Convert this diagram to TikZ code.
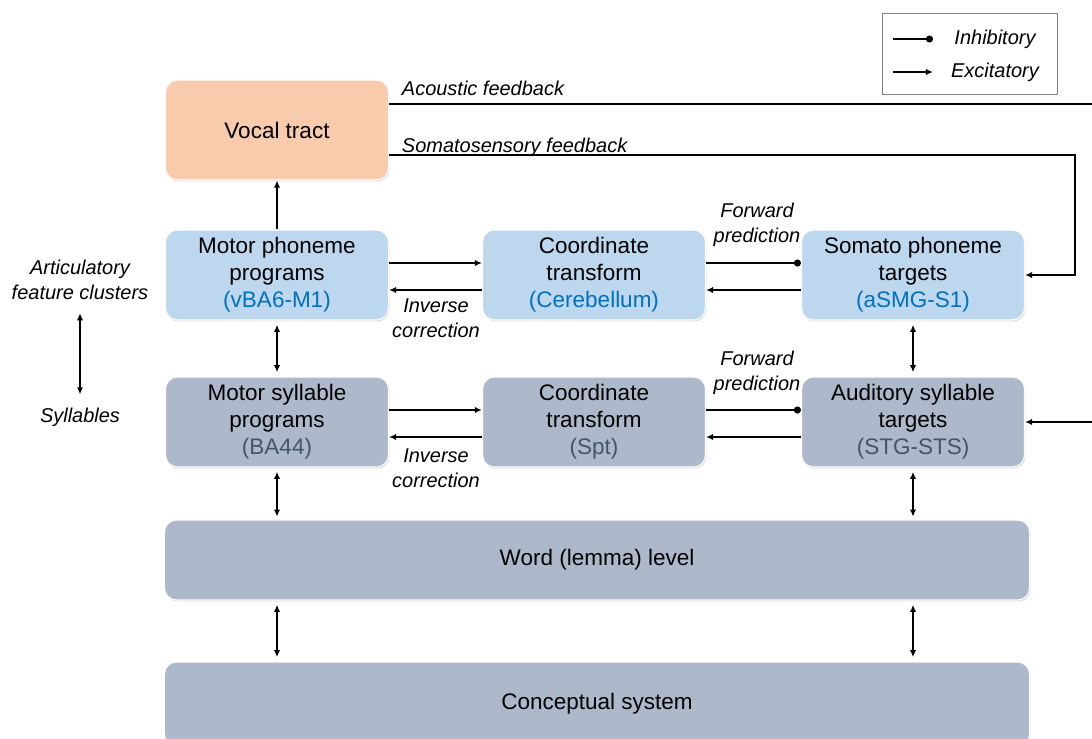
\documentclass[tikz,border=0pt]{standalone}
\usepackage{fontspec}
\setmainfont{Liberation Sans}
\usetikzlibrary{arrows.meta,shadows}
\definecolor{VocalPeach}{RGB}{248,203,173}
\definecolor{PhonBlue}{RGB}{189,215,238}
\definecolor{SylGray}{RGB}{173,185,202}
\definecolor{RegBlue}{RGB}{0,112,192}
\definecolor{RegGray}{RGB}{68,84,106}

\begin{document}
\begin{tikzpicture}[x=0.025cm,y=-0.025cm,
    box/.style={rounded corners=0.3cm,draw=white,line width=0.8pt,minimum width=5.575cm,minimum height=2.25cm,
      align=center,font=\fontsize{16}{19.2}\selectfont,
      drop shadow={shadow xshift=0.6pt,shadow yshift=-1pt,opacity=0.3}},
    wide/.style={box,minimum width=21.625cm,minimum height=2cm},
    note/.style={font=\itshape\fontsize{14.2}{17.8}\selectfont,align=center},
    excit/.style={-{Latex[length=5pt,width=4.5pt]},line width=1.1pt},
    inhib/.style={-{Circle[length=5pt]},line width=1.1pt},
    both/.style={{Latex[length=5pt,width=4.5pt]}-{Latex[length=5pt,width=4.5pt]},line width=1.1pt}]
  \clip (0,0) rectangle (1092,738);

  % boxes
  \node[box,fill=VocalPeach,minimum height=2.5cm] (vocal) at (277,130) {Vocal tract};
  \node[box,fill=PhonBlue] (mpp) at (277,275) {Motor phoneme\\programs\\\textcolor{RegBlue}{(vBA6-M1)}};
  \node[box,fill=PhonBlue] (ctc) at (594,275) {Coordinate\\transform\\\textcolor{RegBlue}{(Cerebellum)}};
  \node[box,fill=PhonBlue] (spt) at (913,275) {Somato phoneme\\targets\\\textcolor{RegBlue}{(aSMG-S1)}};
  \node[box,fill=SylGray] (msp) at (277,422) {Motor syllable\\programs\\\textcolor{RegGray}{(BA44)}};
  \node[box,fill=SylGray] (cts) at (594,422) {Coordinate\\transform\\\textcolor{RegGray}{(Spt)}};
  \node[box,fill=SylGray] (ast) at (913,422) {Auditory syllable\\targets\\\textcolor{RegGray}{(STG-STS)}};
  \node[wide,fill=SylGray] (word) at (597,560) {Word (lemma) level};
  \node[wide,fill=SylGray,minimum height=2.1cm] (concept) at (597,704) {Conceptual system};

  % forward / inverse loops
  \foreach \lft/\mid/\rgt/\fy/\iy in {mpp/ctc/spt/225/318, msp/cts/ast/373/468} {
    \draw[excit] ([yshift=0.3cm]\lft.east) -- ([yshift=0.3cm]\mid.west);
    \draw[excit] ([yshift=-0.375cm]\mid.west) -- ([yshift=-0.375cm]\lft.east);
    \draw[inhib] ([yshift=0.3cm]\mid.east) -- ([yshift=0.3cm]\rgt.west);
    \draw[excit] ([yshift=-0.375cm]\rgt.west) -- ([yshift=-0.375cm]\mid.east);
    \node[note] (fwd-\lft) at (757,\fy) {Forward\\prediction};
    \node[note] (inv-\lft) at (436,\iy) {Inverse\\correction};
  }

  % vertical links
  \draw[excit] (mpp.north) -- (vocal.south);
  \draw[both] ([yshift=-3pt]mpp.south) -- ([yshift=3pt]msp.north);
  \draw[both] ([yshift=-3pt]spt.south) -- ([yshift=3pt]ast.north);
  \foreach \n in {msp,ast} {
    \draw[both] ([yshift=-3pt]\n.south) -- ([yshift=2pt]\n.south |- word.north);
    \draw[both] ([yshift=-3pt]\n.south |- word.south) -- ([yshift=3pt]\n.south |- concept.north);
  }

  % feedback
  \coordinate (acout) at (1092,104);
  \coordinate (acin) at (1092,422);
  \coordinate (sfturn) at (1075,155);
  \draw[line width=1.1pt] (vocal.east |- acout) -- (acout);
  \draw[excit] (acin) -- (ast.east);
  \draw[excit] (vocal.east |- sfturn) -- (sfturn) |- (spt.east);
  \node[note,anchor=west] (aclabel) at (397,88) {Acoustic feedback};
  \node[note,anchor=west] (sflabel) at (397,147) {Somatosensory feedback};

  % levels
  \node[note] (artic) at (80,280) {Articulatory\\feature clusters};
  \node[note] (syll) at (80,417) {Syllables};
  \draw[both,shorten <=6pt,shorten >=6pt] (artic.south) -- (syll.north);

  % legend
  \node[draw=gray,line width=0.7pt,minimum width=4.35cm,minimum height=2.025cm] (legend) at (970,54) {};
  \coordinate (ia) at (893,39); \coordinate (ib) at (933,39);
  \coordinate (ea) at (893,72); \coordinate (eb) at (933,72);
  \draw[inhib] (ia) -- (ib);
  \draw[excit] (ea) -- (eb);
  \node[note] (inhlabel) at (995,39) {Inhibitory};
  \node[note] (exclabel) at (995,72) {Excitatory};
\end{tikzpicture}
\end{document}
